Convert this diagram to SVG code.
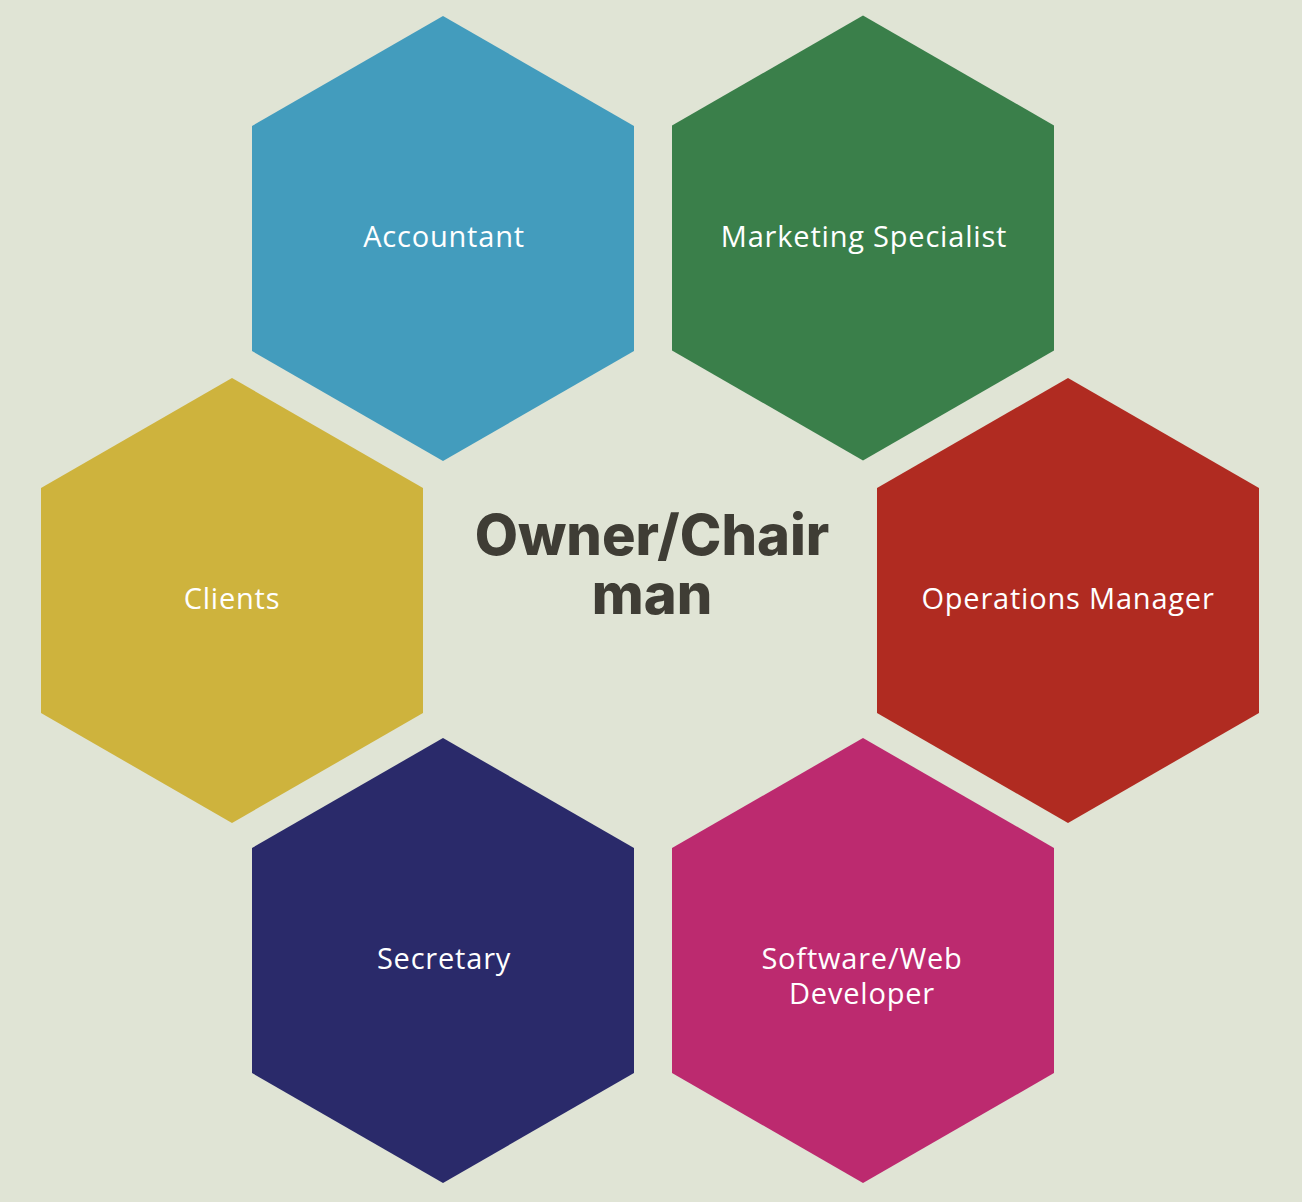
<svg xmlns="http://www.w3.org/2000/svg" width="1302" height="1202" viewBox="0 0 1302 1202">
<style>
.lbl{font-family:"Open Sans","Noto Sans","Liberation Sans",sans-serif;font-size:29px;letter-spacing:0.8px;fill:#ffffff;text-anchor:middle}
.title{font-family:"Inter","Liberation Sans",sans-serif;font-size:56px;font-weight:800;fill:#3f3d35;text-anchor:middle}
</style>
<defs>
<polygon id="hex" points="0,-222.5 191,-112.5 191,112.5 0,222.5 -191,112.5 -191,-112.5"/>
</defs>
<rect width="1302" height="1202" fill="#e0e4d5"/>
<g id="connectors"/>
<g id="accountant"><use href="#hex" x="443" y="238.5" fill="#439cbd"/><text class="lbl" x="444" y="247">Accountant</text></g>
<g id="marketing"><use href="#hex" x="863" y="238" fill="#3a7f4a"/><text class="lbl" x="864" y="247">Marketing Specialist</text></g>
<g id="clients"><use href="#hex" x="232" y="600.5" fill="#ceb33d"/><text class="lbl" x="232" y="609">Clients</text></g>
<g id="operations"><use href="#hex" x="1068" y="600.5" fill="#b02b21"/><text class="lbl" x="1068" y="609">Operations Manager</text></g>
<g id="secretary"><use href="#hex" x="443" y="960.5" fill="#2a2a6a"/><text class="lbl" x="444" y="969">Secretary</text></g>
<g id="software"><use href="#hex" x="863" y="960.5" fill="#bc2a6f"/><text class="lbl" x="862" y="969">Software/Web</text><text class="lbl" x="862" y="1004">Developer</text></g>
<g id="owner"><text class="title" x="652" y="555">Owner/Chair</text><text class="title" x="652" y="614">man</text></g>
</svg>
